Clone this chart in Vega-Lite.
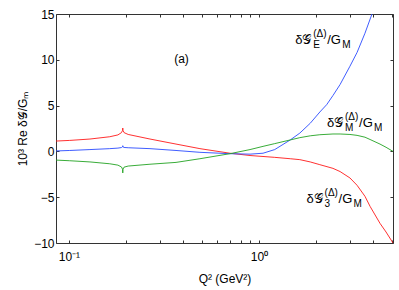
{
  "$schema": "https://vega.github.io/schema/vega-lite/v6.json",
  "width": 337,
  "height": 229,
  "autosize": "none",
  "padding": {"left": 56, "top": 14, "right": 6, "bottom": 47},
  "background": "white",
  "config": {
    "font": "Liberation Sans",
    "view": {"stroke": "#333", "strokeWidth": 1},
    "axis": {"domainColor": "#333", "tickColor": "#333", "labelColor": "#000", "titleColor": "#000", "grid": false, "labelFont": "Liberation Sans", "titleFont": "Liberation Sans", "titleFontWeight": "normal", "labelFontSize": 12, "titleFontSize": 12}
  },
  "datasets": {
    "curves": [
      {"q2": 0.0855, "v": 1.13, "s": "3"}, {"q2": 0.101, "v": 1.2, "s": "3"}, {"q2": 0.129, "v": 1.35, "s": "3"}, {"q2": 0.164, "v": 1.6, "s": "3"}, {"q2": 0.181, "v": 1.8, "s": "3"}, {"q2": 0.189, "v": 2.05, "s": "3"}, {"q2": 0.1915, "v": 2.3, "s": "3"}, {"q2": 0.192, "v": 2.55, "s": "3"}, {"q2": 0.1925, "v": 2.3, "s": "3"}, {"q2": 0.195, "v": 2.05, "s": "3"}, {"q2": 0.205, "v": 1.85, "s": "3"}, {"q2": 0.267, "v": 1.35, "s": "3"}, {"q2": 0.366, "v": 0.8, "s": "3"}, {"q2": 0.489, "v": 0.3, "s": "3"}, {"q2": 0.703, "v": -0.2, "s": "3"}, {"q2": 0.897, "v": -0.45, "s": "3"}, {"q2": 1.21, "v": -0.65, "s": "3"}, {"q2": 1.46, "v": -0.8, "s": "3"}, {"q2": 1.64, "v": -0.9, "s": "3"}, {"q2": 1.86, "v": -1.15, "s": "3"}, {"q2": 2.09, "v": -1.45, "s": "3"}, {"q2": 2.45, "v": -1.85, "s": "3"}, {"q2": 2.67, "v": -2.2, "s": "3"}, {"q2": 3.01, "v": -2.9, "s": "3"}, {"q2": 3.28, "v": -3.7, "s": "3"}, {"q2": 3.61, "v": -4.9, "s": "3"}, {"q2": 3.84, "v": -6.0, "s": "3"}, {"q2": 4.33, "v": -7.85, "s": "3"}, {"q2": 4.66, "v": -8.8, "s": "3"}, {"q2": 5.07, "v": -10.0, "s": "3"},
      {"q2": 0.0855, "v": 0.05, "s": "E"}, {"q2": 0.101, "v": 0.1, "s": "E"}, {"q2": 0.129, "v": 0.2, "s": "E"}, {"q2": 0.164, "v": 0.3, "s": "E"}, {"q2": 0.181, "v": 0.36, "s": "E"}, {"q2": 0.189, "v": 0.42, "s": "E"}, {"q2": 0.1915, "v": 0.5, "s": "E"}, {"q2": 0.192, "v": 0.62, "s": "E"}, {"q2": 0.1925, "v": 0.5, "s": "E"}, {"q2": 0.195, "v": 0.43, "s": "E"}, {"q2": 0.205, "v": 0.4, "s": "E"}, {"q2": 0.267, "v": 0.3, "s": "E"}, {"q2": 0.366, "v": 0.1, "s": "E"}, {"q2": 0.489, "v": -0.1, "s": "E"}, {"q2": 0.703, "v": -0.25, "s": "E"}, {"q2": 0.897, "v": -0.3, "s": "E"}, {"q2": 1.05, "v": -0.2, "s": "E"}, {"q2": 1.21, "v": 0.2, "s": "E"}, {"q2": 1.46, "v": 1.25, "s": "E"}, {"q2": 1.64, "v": 2.0, "s": "E"}, {"q2": 1.86, "v": 3.07, "s": "E"}, {"q2": 2.09, "v": 4.3, "s": "E"}, {"q2": 2.27, "v": 5.1, "s": "E"}, {"q2": 2.45, "v": 6.1, "s": "E"}, {"q2": 2.67, "v": 7.3, "s": "E"}, {"q2": 3.01, "v": 9.3, "s": "E"}, {"q2": 3.28, "v": 10.8, "s": "E"}, {"q2": 3.61, "v": 12.9, "s": "E"}, {"q2": 3.93, "v": 15.0, "s": "E"}, {"q2": 4.2, "v": 16.6, "s": "E"},
      {"q2": 0.0855, "v": -0.95, "s": "M"}, {"q2": 0.101, "v": -1.02, "s": "M"}, {"q2": 0.129, "v": -1.15, "s": "M"}, {"q2": 0.164, "v": -1.35, "s": "M"}, {"q2": 0.181, "v": -1.5, "s": "M"}, {"q2": 0.189, "v": -1.7, "s": "M"}, {"q2": 0.1915, "v": -1.95, "s": "M"}, {"q2": 0.192, "v": -2.35, "s": "M"}, {"q2": 0.1925, "v": -1.95, "s": "M"}, {"q2": 0.195, "v": -1.72, "s": "M"}, {"q2": 0.205, "v": -1.6, "s": "M"}, {"q2": 0.267, "v": -1.4, "s": "M"}, {"q2": 0.366, "v": -1.2, "s": "M"}, {"q2": 0.489, "v": -0.8, "s": "M"}, {"q2": 0.703, "v": -0.25, "s": "M"}, {"q2": 0.897, "v": 0.2, "s": "M"}, {"q2": 1.05, "v": 0.55, "s": "M"}, {"q2": 1.21, "v": 0.85, "s": "M"}, {"q2": 1.46, "v": 1.25, "s": "M"}, {"q2": 1.64, "v": 1.5, "s": "M"}, {"q2": 1.86, "v": 1.7, "s": "M"}, {"q2": 2.09, "v": 1.82, "s": "M"}, {"q2": 2.45, "v": 1.9, "s": "M"}, {"q2": 2.67, "v": 1.9, "s": "M"}, {"q2": 3.01, "v": 1.85, "s": "M"}, {"q2": 3.28, "v": 1.75, "s": "M"}, {"q2": 3.61, "v": 1.55, "s": "M"}, {"q2": 3.84, "v": 1.3, "s": "M"}, {"q2": 4.33, "v": 0.8, "s": "M"}, {"q2": 4.66, "v": 0.45, "s": "M"}, {"q2": 5.07, "v": 0.0, "s": "M"}
    ],
    "labels": [
      {"q2": 1.55, "v": 11.7, "sub": "E"},
      {"q2": 2.28, "v": 2.66, "sub": "M"},
      {"q2": 1.78, "v": -5.67, "sub": "3"}
    ],
    "panel": [{"q2": 0.391, "v": 10.1, "t": "(a)"}]
  },
  "resolve": {"axis": {"x": "independent", "y": "independent"}},
  "layer": [
    {
      "data": {"name": "curves"},
      "mark": {"type": "line", "clip": true, "strokeWidth": 0.9},
      "encoding": {
        "x": {"field": "q2", "type": "quantitative", "scale": {"type": "log", "domain": [0.0855, 5.07], "nice": false},
              "axis": {"orient": "bottom", "title": "Q² (GeV²)", "values": [0.1, 0.2, 0.3, 0.4, 0.5, 0.6, 0.7, 0.8, 0.9, 1, 2, 3, 4, 5], "labelExpr": "datum.value == 0.1 ? '10⁻¹' : (datum.value == 1 ? '10⁰' : '')", "tickSize": -3, "labelPadding": 11, "titlePadding": 11, "domain": false}},
        "y": {"field": "v", "type": "quantitative", "scale": {"domain": [-10, 15], "nice": false},
              "axis": {"orient": "left", "title": "10³ Re δ𝒢/Gₘ", "values": [-10, -5, 0, 5, 10, 15], "tickSize": -3, "labelPadding": 5, "titlePadding": 4, "domain": false}},
        "color": {"field": "s", "type": "nominal", "scale": {"domain": ["E", "M", "3"], "range": ["#2a4bff", "#22a322", "#ff1a1a"]}, "legend": null}
      }
    },
    {
      "data": {"name": "curves"},
      "mark": {"type": "point", "opacity": 0},
      "encoding": {
        "x": {"field": "q2", "type": "quantitative", "axis": {"orient": "top", "title": null, "labels": false, "values": [0.1, 0.2, 0.3, 0.4, 0.5, 0.6, 0.7, 0.8, 0.9, 1, 2, 3, 4, 5], "tickSize": -3, "domain": false}},
        "y": {"field": "v", "type": "quantitative", "axis": {"orient": "right", "title": null, "labels": false, "values": [-10, -5, 0, 5, 10, 15], "tickSize": -3, "domain": false}}
      }
    },
    {
      "data": {"name": "panel"},
      "mark": {"type": "text", "fontSize": 12, "align": "center", "baseline": "middle"},
      "encoding": {"x": {"field": "q2", "type": "quantitative", "axis": null}, "y": {"field": "v", "type": "quantitative", "axis": null}, "text": {"field": "t"}}
    },
    {
      "data": {"name": "labels"},
      "mark": {"type": "text", "text": "δ", "fontSize": 13, "align": "left", "baseline": "alphabetic"},
      "encoding": {"x": {"field": "q2", "type": "quantitative", "axis": null}, "y": {"field": "v", "type": "quantitative", "axis": null}}
    },
    {
      "data": {"name": "labels"},
      "mark": {"type": "text", "text": "𝒢", "fontSize": 13, "align": "left", "baseline": "alphabetic", "dx": 7},
      "encoding": {"x": {"field": "q2", "type": "quantitative", "axis": null}, "y": {"field": "v", "type": "quantitative", "axis": null}}
    },
    {
      "data": {"name": "labels"},
      "mark": {"type": "text", "text": "(Δ)", "fontSize": 10, "align": "left", "baseline": "alphabetic", "dx": 18, "dy": -7},
      "encoding": {"x": {"field": "q2", "type": "quantitative", "axis": null}, "y": {"field": "v", "type": "quantitative", "axis": null}}
    },
    {
      "data": {"name": "labels"},
      "mark": {"type": "text", "fontSize": 10, "align": "left", "baseline": "alphabetic", "dx": 18, "dy": 4},
      "encoding": {"x": {"field": "q2", "type": "quantitative", "axis": null}, "y": {"field": "v", "type": "quantitative", "axis": null}, "text": {"field": "sub"}}
    },
    {
      "data": {"name": "labels"},
      "mark": {"type": "text", "text": "/G", "fontSize": 13, "align": "left", "baseline": "alphabetic", "dx": 32},
      "encoding": {"x": {"field": "q2", "type": "quantitative", "axis": null}, "y": {"field": "v", "type": "quantitative", "axis": null}}
    },
    {
      "data": {"name": "labels"},
      "mark": {"type": "text", "text": "M", "fontSize": 10, "align": "left", "baseline": "alphabetic", "dx": 47, "dy": 4},
      "encoding": {"x": {"field": "q2", "type": "quantitative", "axis": null}, "y": {"field": "v", "type": "quantitative", "axis": null}}
    }
  ]
}
